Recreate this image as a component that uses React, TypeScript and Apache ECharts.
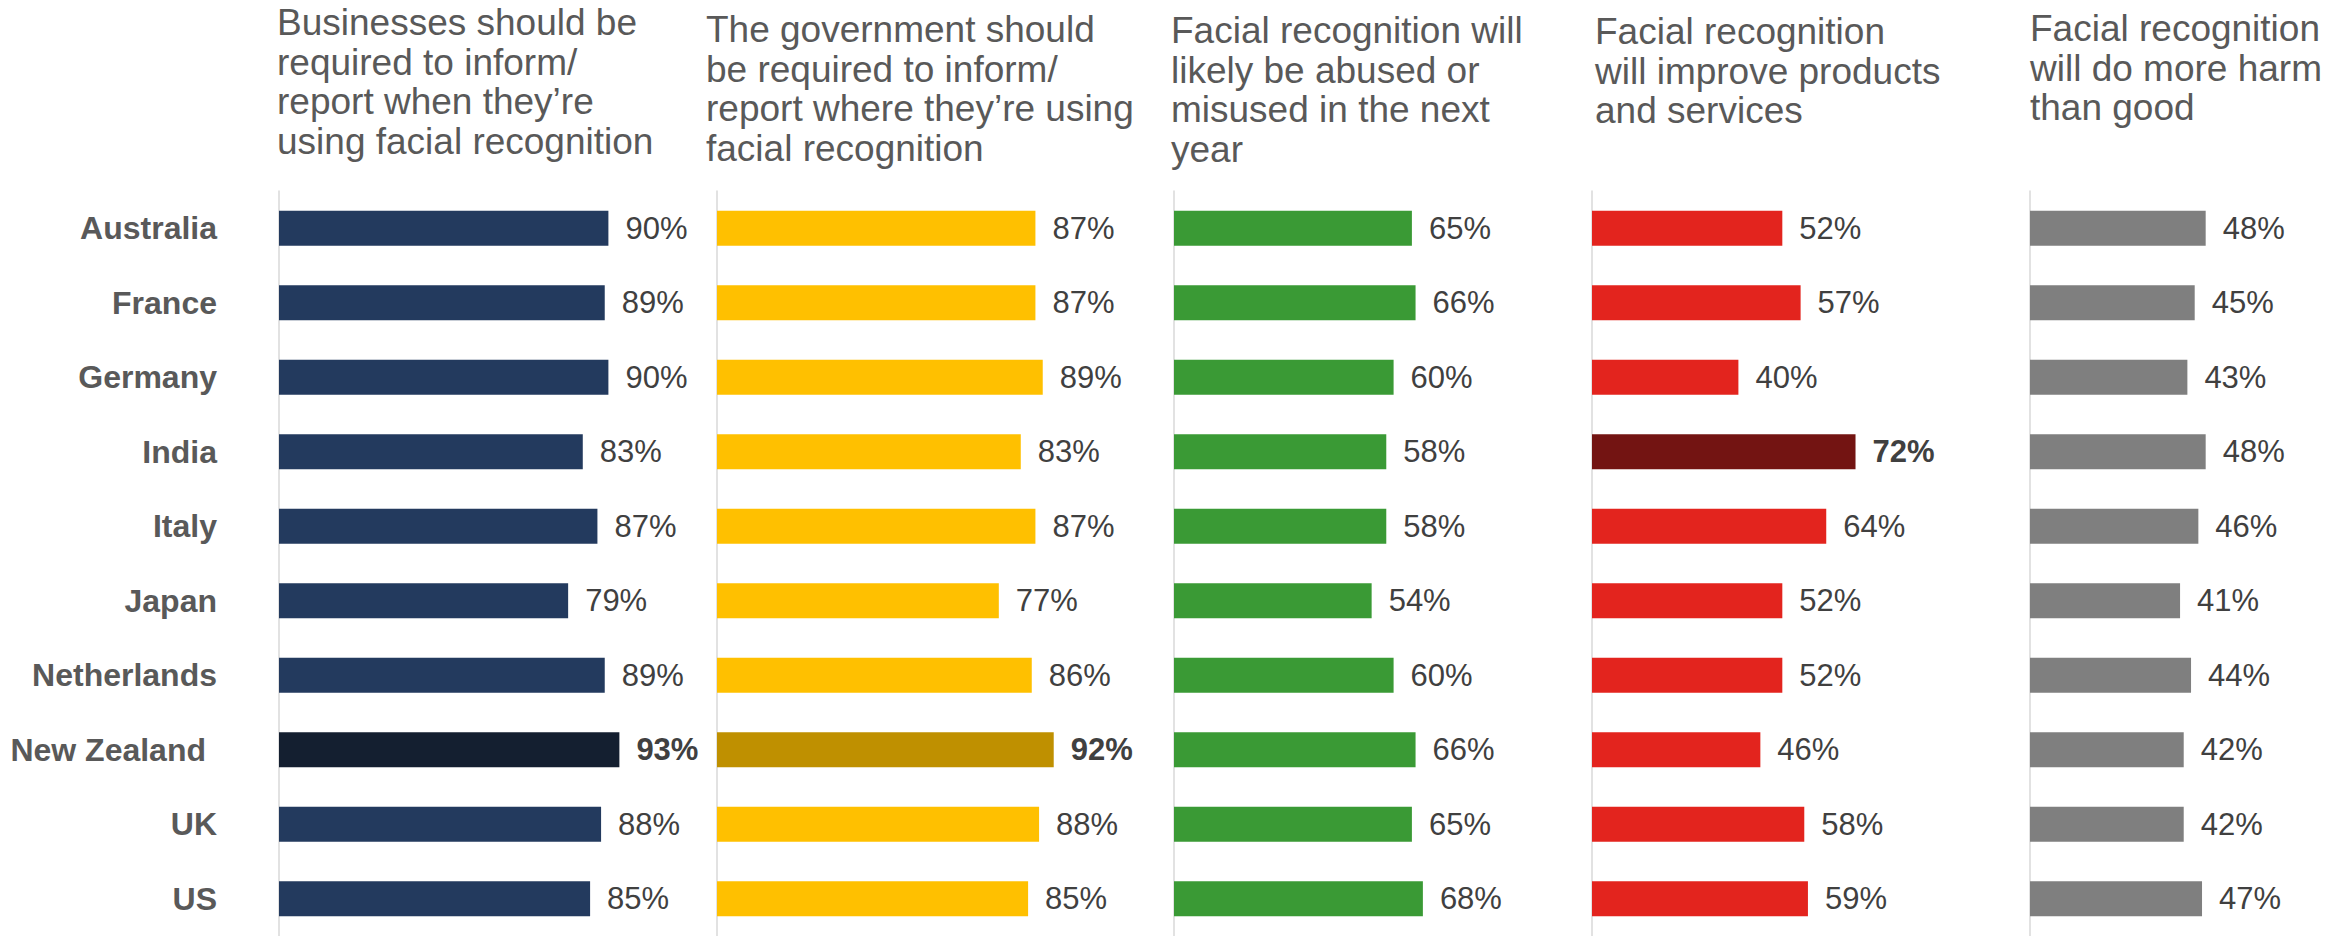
import React, { useEffect, useRef } from 'react';
import * as echarts from 'echarts';

const countries = ['Australia', 'France', 'Germany', 'India', 'Italy', 'Japan', 'Netherlands', 'New Zealand', 'UK', 'US'];
const businessInform = [90, 89, 90, 83, 87, 79, 89, 93, 88, 85];
const governmentInform = [87, 87, 89, 83, 87, 77, 86, 92, 88, 85];
const likelyAbused = [65, 66, 60, 58, 58, 54, 60, 66, 65, 68];
const improveProducts = [52, 57, 40, 72, 64, 52, 52, 46, 58, 59];
const moreHarm = [48, 45, 43, 48, 46, 41, 44, 42, 42, 47];

const panelTitles = [
  'Businesses should be\nrequired to inform/\nreport when they’re\nusing facial recognition',
  'The government should\nbe required to inform/\nreport where they’re using\nfacial recognition',
  'Facial recognition will\nlikely be abused or\nmisused in the next\nyear',
  'Facial recognition\nwill improve products\nand services',
  'Facial recognition\nwill do more harm\nthan good',
];

const panelValues = [businessInform, governmentInform, likelyAbused, improveProducts, moreHarm];
const baseColors = ['#233A5E', '#FFC000', '#3A9A35', '#E3241E', '#7F7F7F'];
const highlightColors = ['#141F30', '#BF9000', '', '#731412', ''];
const highlightCountry = ['New Zealand', 'New Zealand', '', 'India', ''];
const paddedLabel = 'New Zealand';

// layout (pixels)
const panelLefts = [279, 717, 1174, 1592, 2030];
const panelMax = [100, 100, 80, 80, 80];
const titleLefts = [277, 706, 1171, 1595, 2030];
const titleTops = [3, 10, 11, 12, 9];
const gridTop = 191;
const gridHeight = 750;
const pxPerUnit = 3.66;

const FONT = "'Liberation Sans', Arial, sans-serif";

export default function App() {
  const ref = useRef<HTMLDivElement>(null);

  useEffect(() => {
    document.body.style.margin = '0';
    if (!ref.current) return;
    const chart = echarts.init(ref.current, undefined, { renderer: 'svg' });

    const grids = panelLefts.map((left, i) => ({
      left,
      top: gridTop,
      width: panelMax[i] * pxPerUnit,
      height: gridHeight,
      containLabel: false,
    }));

    const xAxes = panelLefts.map((_, i) => ({
      type: 'value',
      gridIndex: i,
      min: 0,
      max: panelMax[i],
      show: false,
    }));

    const yAxes = panelLefts.map((_, i) => ({
      type: 'category',
      gridIndex: i,
      data: countries,
      inverse: true,
      axisLine: { show: true, lineStyle: { color: '#D9D9D9', width: 1.5 } },
      axisTick: { show: false },
      splitLine: { show: false },
      axisLabel: {
        show: i === 0,
        margin: 62,
        fontSize: 32,
        fontWeight: 'bold',
        color: '#595959',
        fontFamily: FONT,
        formatter: (v: string) => (v === paddedLabel ? `{pad|${v}}` : v),
        rich: {
          pad: {
            fontSize: 32,
            fontWeight: 'bold',
            color: '#595959',
            fontFamily: FONT,
            padding: [0, 11, 0, 0],
          },
        },
      },
    }));

    const series = panelValues.map((vals, i) => ({
      type: 'bar',
      xAxisIndex: i,
      yAxisIndex: i,
      barWidth: 35,
      itemStyle: { color: baseColors[i] },
      label: {
        show: true,
        position: 'right',
        distance: 17,
        formatter: '{c}%',
        fontSize: 31,
        color: '#404040',
        fontFamily: FONT,
      },
      data: vals.map((v, k) => {
        if (highlightCountry[i] && countries[k] === highlightCountry[i]) {
          return {
            value: v,
            itemStyle: { color: highlightColors[i] },
            label: { fontWeight: 'bold' },
          };
        }
        return v;
      }),
    }));

    const titles = panelTitles.map((t, i) => ({
      text: t,
      left: titleLefts[i],
      top: titleTops[i],
      padding: 0,
      textStyle: {
        fontSize: 37,
        lineHeight: 39.5,
        fontWeight: 'normal',
        color: '#595959',
        fontFamily: FONT,
      },
    }));

    chart.setOption({
      animation: false,
      backgroundColor: '#FFFFFF',
      title: titles,
      grid: grids,
      xAxis: xAxes,
      yAxis: yAxes,
      series,
    });

    return () => chart.dispose();
  }, []);

  return <div ref={ref} style={{ width: 2351, height: 936 }} />;
}
